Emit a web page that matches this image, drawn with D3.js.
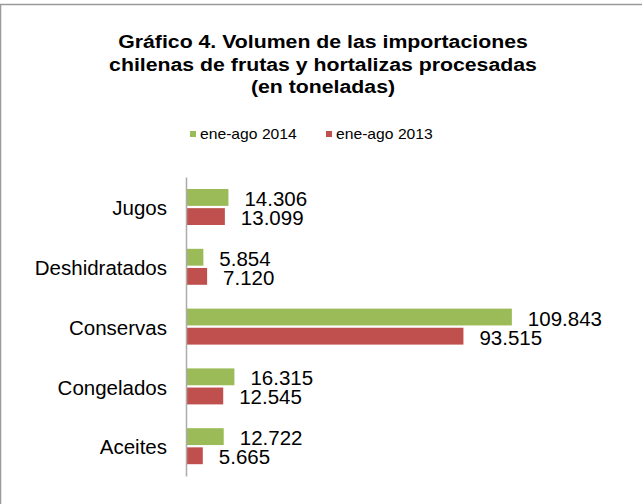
<!DOCTYPE html>
<html lang="es">
<head>
    <meta charset="UTF-8">
    <title>Gráfico 4</title>
    <script src="https://d3js.org/d3.v7.min.js"></script>
    <style>
        body {
            margin: 0;
            padding: 0;
            background: #fff;
        }
        svg text {
            font-family: Arial, "Liberation Sans", sans-serif;
            fill: #000;
        }
    </style>
</head>
<body>
    <svg width="642" height="504"></svg>

    <script>
        const titleLines = [
            "Gráfico 4. Volumen de las importaciones",
            "chilenas de frutas y hortalizas procesadas",
            "(en toneladas)"
        ];
        const categories = ["Jugos", "Deshidratados", "Conservas", "Congelados", "Aceites"];
        const seriesNames = ["ene-ago 2014", "ene-ago 2013"];
        const values2014 = [14306, 5854, 109843, 16315, 12722];
        const values2013 = [13099, 7120, 93515, 12545, 5665];
        const colors = ["#9bbb59", "#c0504d"];

        const svg = d3.select("svg");
        const fmt = d3.formatLocale({ decimal: ",", thousands: ".", grouping: [3], currency: ["$", ""] }).format(",d");

        // chart frame (only top and left edges fall inside the picture)
        svg.append("rect")
            .attr("x", 0.5).attr("y", 4.5)
            .attr("width", 660).attr("height", 520)
            .attr("fill", "none")
            .attr("stroke", "#9a9a9a")
            .attr("stroke-width", 1.5);

        // text in the source is slightly wider than the font, stretch it a little
        const sx = 1.12;

        svg.append("g").selectAll("text")
            .data(titleLines)
            .join("text")
            .attr("text-anchor", "middle")
            .attr("transform", (d, i) => `translate(323,${48 + i * 22.5}) scale(${sx},1)`)
            .style("font-size", "19px")
            .style("font-weight", "bold")
            .text(d => d);

        // legend
        const legendX = [190, 326];
        const legend = svg.append("g").selectAll("g")
            .data(seriesNames)
            .join("g")
            .attr("transform", (d, i) => `translate(${legendX[i]},131)`);
        legend.append("rect")
            .attr("width", 6).attr("height", 6)
            .attr("fill", (d, i) => colors[i]);
        legend.append("text")
            .attr("transform", `translate(10,7.5) scale(${sx},1)`)
            .style("font-size", "14px")
            .text(d => d);

        // scales
        const x = d3.scaleLinear().domain([0, 120000]).range([186, 542]);
        const y0 = d3.scaleBand().domain(categories).range([177, 476]);
        const y1 = d3.scaleBand().domain(seriesNames).range([12, 48]).paddingInner(0.12);

        const data = categories.map((c, i) => ({ cat: c, vals: [values2014[i], values2013[i]] }));

        const groups = svg.append("g").selectAll("g")
            .data(data)
            .join("g")
            .attr("transform", d => `translate(0,${y0(d.cat)})`);

        const cells = groups.selectAll("g")
            .data(d => d.vals.map((v, j) => ({ name: seriesNames[j], v: v, j: j })))
            .join("g");

        cells.append("rect")
            .attr("x", x(0))
            .attr("y", d => y1(d.name))
            .attr("width", d => x(d.v) - x(0))
            .attr("height", y1.bandwidth())
            .attr("fill", d => colors[d.j]);

        cells.append("text")
            .attr("x", d => x(d.v) + 16)
            .attr("y", d => y1(d.name) + y1.bandwidth() / 2 + 8.5)
            .style("font-size", "20.5px")
            .text(d => fmt(d.v));

        // category axis
        const yAxis = svg.append("g")
            .attr("transform", `translate(${x(0)},0)`)
            .call(d3.axisLeft(y0).tickSize(0).tickSizeOuter(0).tickPadding(19));
        yAxis.select(".domain")
            .attr("stroke", "#ababab")
            .attr("stroke-width", 1.5);
        yAxis.selectAll(".tick text")
            .attr("dy", "0.4em")
            .style("font-size", "20.5px")
            .style("font-family", "Arial, 'Liberation Sans', sans-serif")
            .attr("fill", "#000");
    </script>
</body>
</html>
